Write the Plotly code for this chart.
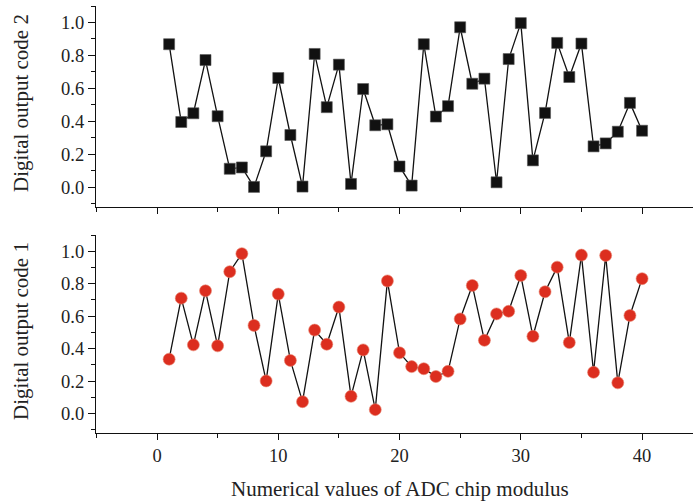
import plotly.graph_objects as go
from plotly.subplots import make_subplots

x_values = list(range(1, 41))

code2 = [0.868, 0.396, 0.449, 0.772, 0.431, 0.112, 0.120, 0.002, 0.218, 0.663,
         0.317, 0.004, 0.809, 0.486, 0.744, 0.020, 0.596, 0.376, 0.382, 0.126,
         0.010, 0.868, 0.429, 0.492, 0.971, 0.628, 0.659, 0.030, 0.778, 0.996,
         0.163, 0.451, 0.876, 0.669, 0.872, 0.248, 0.266, 0.337, 0.512, 0.343]

code1 = [0.335, 0.711, 0.423, 0.756, 0.417, 0.874, 0.985, 0.543, 0.201, 0.736,
         0.327, 0.073, 0.514, 0.427, 0.656, 0.106, 0.392, 0.024, 0.817, 0.374,
         0.289, 0.276, 0.228, 0.260, 0.583, 0.789, 0.451, 0.614, 0.630, 0.850,
         0.476, 0.750, 0.902, 0.437, 0.976, 0.254, 0.974, 0.189, 0.604, 0.831]

x_title = "Numerical values of ADC chip modulus"
y_title_top = "Digital output code 2"
y_title_bottom = "Digital output code 1"

FONT = "Liberation Serif"
FS_TICK = 18.5
FS_TITLE = 21

fig = make_subplots(rows=2, cols=1, shared_xaxes=False)

fig.add_trace(go.Scatter(
    x=x_values, y=code2, mode="lines+markers",
    line=dict(color="#111111", width=1.3),
    marker=dict(symbol="square", size=11, color="#111111",
                line=dict(color="#555555", width=0.6)),
    showlegend=False), row=1, col=1)

fig.add_trace(go.Scatter(
    x=x_values, y=code1, mode="lines+markers",
    line=dict(color="#111111", width=1.3),
    marker=dict(symbol="circle", size=12, color="#dc2e1f",
                line=dict(color="#e8836f", width=0.6)),
    showlegend=False), row=2, col=1)

W, H = 693, 503
mt, mb, ml, mr = 6, 70, 96, 0
ph = H - mt - mb

def dom(top_px, bot_px):
    return [(H - mb - bot_px) / ph, (H - mb - top_px) / ph]

xrange_ = [-5.03, 44.2]
common_x = dict(range=xrange_, showline=True, linecolor="#111111", linewidth=1.2,
                ticks="outside", ticklen=6, tickwidth=1.2, tickcolor="#111111",
                tick0=0, dtick=10, showgrid=False, zeroline=False,
                minor=dict(ticks="outside", ticklen=4, tickwidth=1.2,
                           tickcolor="#111111", dtick=5, tick0=0, showgrid=False),
                tickfont=dict(family=FONT, size=FS_TICK, color="#222222"))
common_y = dict(range=[-0.12, 1.1], showline=True, linecolor="#111111", linewidth=1.2,
                ticks="outside", ticklen=7, tickwidth=1.2, tickcolor="#111111",
                tick0=0, dtick=0.2, tickformat=".1f", showgrid=False, zeroline=False,
                minor=dict(ticks="outside", ticklen=4, tickwidth=1.2,
                           tickcolor="#111111", dtick=0.1, tick0=0, showgrid=False),
                tickfont=dict(family=FONT, size=FS_TICK, color="#222222"))

fig.update_xaxes(**common_x)
fig.update_yaxes(**common_y)
fig.update_xaxes(showticklabels=False, row=1, col=1)

fig.update_layout(
    width=W, height=H,
    margin=dict(l=ml, r=mr, t=mt, b=mb),
    paper_bgcolor="white", plot_bgcolor="white",
    font=dict(family=FONT, size=FS_TICK, color="#222222"),
    xaxis=dict(domain=[0, 1]), xaxis2=dict(domain=[0, 1]),
    yaxis=dict(domain=dom(6, 207)),
    yaxis2=dict(domain=dom(235, 433)),
)

fig.add_annotation(text=x_title, xref="paper", yref="paper",
                   x=(400 - ml) / (W - ml), y=-(489 - (H - mb)) / ph,
                   xanchor="center", yanchor="middle", showarrow=False,
                   font=dict(family=FONT, size=FS_TITLE, color="#222222"))
for txt, cy in [(y_title_top, 103), (y_title_bottom, 331)]:
    fig.add_annotation(text=txt, xref="paper", yref="paper",
                       x=(21 - ml) / (W - ml), y=(H - mb - cy) / ph,
                       xanchor="center", yanchor="middle", showarrow=False,
                       textangle=-90,
                       font=dict(family=FONT, size=FS_TITLE, color="#222222"))

fig.write_html("out.html")
